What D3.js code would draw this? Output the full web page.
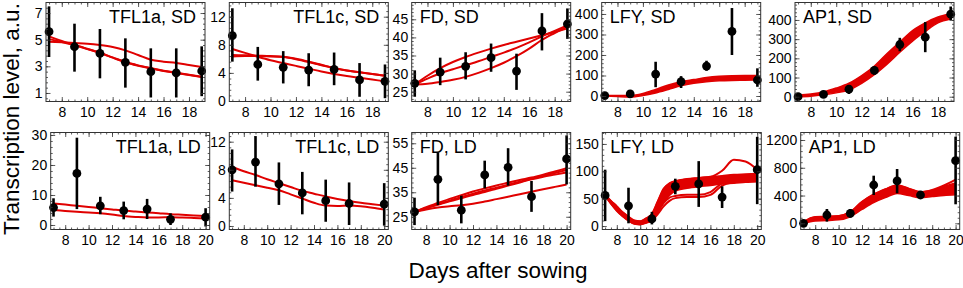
<!DOCTYPE html>
<meta charset="utf-8">
<style>
    body { margin: 0; background: #fff; }
    svg text { font-family: 'Liberation Sans', Arial, Helvetica, sans-serif; fill: #000; }
    .axis text { font-size: 14px; font-family: 'Liberation Sans', Arial, sans-serif; }
    .axis path, .ticks path { display: none; }
    .ticks line { stroke: #333; stroke-width: 0.8px; }
    .title { font-size: 18px; }
    .axis-title { font-size: 22.5px; }
    .fit { fill: none; stroke: #e00000; stroke-width: 2px; }
    .band { fill: #e00000; }
    .band-edge { fill: none; stroke: #e00000; stroke-width: 1.5px; }
    .err { stroke: #000; stroke-width: 2.6px; }
    .frame { fill: none; stroke: #333; stroke-width: 1px; }
</style>
<svg width="963" height="288"></svg>
<script src="https://d3js.org/d3.v7.min.js"></script>
<script>

// sampling days
var daysSD = [7, 9, 11, 13, 15, 17, 19];
var daysLD = [7, 9, 11, 13, 15, 17, 20];
var fitDaysSD = [7, 8, 9, 10, 11, 12, 13, 14, 15, 16, 17, 18, 19];
var fitDaysLD = [7, 8, 9, 10, 11, 12, 13, 14, 15, 16, 17, 18, 19, 20];
var fitDaysLfyLD = [7, 7.5, 8, 8.5, 9, 9.5, 10, 10.5, 11, 11.5, 12, 12.5, 13, 14, 15, 16, 17, 18, 19, 20];
var xTicksSD = [8, 10, 12, 14, 16, 18];
var xTicksLD = [8, 10, 12, 14, 16, 18, 20];

// short day measurements
var tfl1aSD = [5.6, 4.47, 3.97, 3.3, 2.6, 2.5, 2.65];
var tfl1aSDLo = [3.7, 2.6, 2.1, 1.4, 0.66, 0.66, 0.76];
var tfl1aSDHi = [7.5, 6.2, 5.8, 5.1, 4.35, 4.35, 4.5];
var tfl1cSD = [9.3, 5.2, 4.8, 4.4, 4.5, 3.0, 2.8];
var tfl1cSDLo = [5.6, 2.9, 2.5, 2.1, 2.25, 0.6, 0.4];
var tfl1cSDHi = [13.2, 7.7, 7.1, 6.8, 6.9, 5.4, 5.2];
var fdSD = [27.3, 30.4, 32.0, 34.4, 30.7, 41.8, 43.7];
var fdSDLo = [23.6, 26.8, 28.4, 30.5, 25.5, 36.4, 39.6];
var fdSDHi = [30.9, 34.4, 35.9, 38.3, 35.5, 46.7, 48.0];
var lfySD = [2, 10, 107, 70, 146, 315, 78];
var lfySDLo = [-4, 4, 43, 39, 123, 200, 45];
var lfySDHi = [8, 16, 167, 97, 172, 429, 135];
var ap1SD = [0, 12, 39, 137, 272, 310, 430];
var ap1SDLo = [-6, 4, 14, 114, 237, 232, 400];
var ap1SDHi = [6, 20, 61, 158, 307, 389, 470];

// long day measurements
var tfl1aLD = [5.8, 17.2, 6.4, 4.8, 5.3, 1.9, 2.6];
var tfl1aLDLo = [2.8, 5.3, 3.6, 1.9, 2.0, 0, -0.5];
var tfl1aLDHi = [8.9, 29.1, 9.4, 7.8, 8.7, 3.9, 5.6];
var tfl1cLD = [8.0, 9.1, 6.0, 4.7, 3.6, 3.2, 3.1];
var tfl1cLDLo = [4.9, 5.6, 3.0, 1.66, 0.6, 0.14, 0.05];
var tfl1cLDHi = [10.9, 12.8, 9.05, 7.7, 6.6, 6.2, 6.1];
var fdLD = [27.0, 40.3, 27.7, 42.1, 45.2, 33.2, 48.6];
var fdLDLo = [21.6, 29.8, 22.3, 36.6, 37.7, 27.0, 38.2];
var fdLDHi = [32.8, 51.3, 33.6, 47.9, 53.0, 39.6, 58.2];
var lfyLD = [56, 37, 13, 72.6, 77, 53, 103];
var lfyLDLo = [9, 5, 3, 58, 35, 33, 40];
var lfyLDHi = [103, 70, 26, 86.5, 118.6, 72.6, 163];
var ap1LD = [0, 120, 144, 552, 610, 408, 902];
var ap1LDLo = [-18, 24, 82, 408, 432, 350, 274];
var ap1LDHi = [18, 206, 206, 686, 782, 466, 1248];

// model fits (short day)
var tfl1aSDFits = [
    [5.25, 4.9, 4.6, 4.3, 4.0, 3.65, 3.3, 3.05, 2.85, 2.65, 2.5, 2.35, 2.2],
    [5.05, 4.82, 4.6, 4.32, 4.02, 3.67, 3.32, 3.07, 2.87, 2.67, 2.52, 2.37, 2.22],
    [4.85, 4.8, 4.75, 4.7, 4.6, 4.45, 4.2, 3.85, 3.5, 3.35, 3.25, 3.1, 2.95]
];
var tfl1cSDFits = [
    [7.4, 6.85, 6.3, 5.8, 5.4, 5.0, 4.6, 4.2, 3.85, 3.55, 3.3, 3.05, 2.8],
    [6.55, 6.5, 6.45, 6.4, 6.3, 6.0, 5.6, 5.15, 4.7, 4.35, 4.1, 3.85, 3.6],
    [6.35, 6.4, 6.4, 6.35, 6.25, 5.95, 5.55, 5.1, 4.68, 4.33, 4.08, 3.83, 3.58]
];
var fdSDFits = [
    [27, 29.4, 31.5, 33.2, 34.6, 35.8, 36.9, 37.9, 38.8, 39.7, 40.6, 41.5, 42.5],
    [27, 28.6, 30.1, 31.2, 32.3, 33.4, 34.6, 35.8, 37.1, 38.6, 40.3, 41.8, 43.3],
    [27, 27.2, 27.7, 28.3, 29.1, 30.2, 31.5, 33.0, 34.8, 36.9, 39.3, 41.2, 43.0]
];
var lfySDBandLo = [0, -3, -5, 2, 15, 32, 50, 62, 70, 74, 76, 77, 78];
var lfySDBandHi = [4, 2, 2, 12, 32, 54, 70, 80, 90, 96, 99, 100, 100];
var ap1SDBandLo = [0, 3, 10, 20, 35, 70, 115, 170, 232, 290, 340, 385, 405];
var ap1SDBandHi = [8, 14, 25, 45, 70, 110, 160, 225, 285, 345, 385, 415, 432];

// model fits (long day)
var tfl1aLDFits = [
    [7.2, 6.8, 6.4, 6.0, 5.6, 5.2, 4.8, 4.5, 4.2, 3.9, 3.6, 3.4, 3.2, 3.0],
    [5.0, 4.7, 4.4, 4.15, 3.9, 3.5, 3.0, 2.7, 2.5, 2.5, 2.6, 2.5, 2.35, 2.2]
];
var tfl1cLDFits = [
    [8.4, 7.8, 7.25, 6.65, 6.1, 5.55, 5.0, 4.6, 4.2, 3.85, 3.55, 3.3, 3.1, 2.9],
    [6.5, 6.15, 5.8, 5.45, 5.1, 4.5, 3.9, 3.3, 2.9, 2.85, 2.9, 2.8, 2.6, 2.35]
];
var fdLDFits = [
    [27, 28.9, 30.6, 32.3, 33.8, 35.3, 36.6, 37.8, 38.9, 40.0, 41.0, 42.2, 43.5, 44.8],
    [27, 28.6, 30.1, 31.6, 33.0, 34.4, 35.7, 36.9, 38.1, 39.3, 40.5, 41.7, 42.9, 44.1],
    [27, 28.5, 29.9, 31.3, 32.6, 33.9, 35.1, 36.4, 37.7, 39.0, 40.3, 41.3, 42.2, 43.1],
    [27, 28.0, 28.8, 29.3, 29.7, 30.3, 31.2, 32.2, 33.2, 34.2, 35.2, 36.2, 37.2, 38.2]
];
var lfyLDBandLo = [56, 41, 28, 18, 10, 4, 3, 6, 10, 25, 44, 56, 64, 69, 72, 74, 77, 78, 80, 81];
var lfyLDBandHi = [57, 46, 36, 25, 17, 10, 9, 14, 22, 45, 68, 78, 82, 86, 88, 90, 92, 94, 95, 96];
var lfyLDFits = [
    [56, 41, 28, 18, 10, 4, 3, 6, 10, 22, 36, 46, 51, 53, 53, 57, 74, 80, 82, 83],
    [56, 42, 30, 19, 11, 5, 4, 7, 12, 26, 42, 52, 55, 57, 57, 62, 78, 82, 84, 85],
    [57, 46, 36, 25, 17, 10, 9, 14, 22, 45, 68, 78, 82, 86, 88, 90, 101, 121, 118, 103]
];
var ap1LDBandLo = [0, 35, 40, 50, 95, 200, 300, 370, 430, 400, 370, 385, 400, 410];
var ap1LDBandHi = [20, 90, 95, 105, 165, 310, 415, 490, 550, 500, 450, 475, 530, 580];
var ap1LDFits = [
    [20, 90, 95, 105, 165, 310, 415, 490, 550, 500, 450, 480, 545, 630]
];

var W = 159, H_SD = [2.5, 101.5], H_LD = [132.5, 229.5];
var leftSD = [46, 229.3, 411.7, 601.7, 795];
var leftLD = [50.7, 229.3, 411.7, 602.3, 800.7];

var panels = [
    {title: "TFL1a, SD", row: 0, col: 0, titleRight: true, days: daysSD, mean: tfl1aSD, lo: tfl1aSDLo, hi: tfl1aSDHi,
     yDomain: [0.36, 7.79], yTicks: [1, 3, 5, 7], fitDays: fitDaysSD, fits: tfl1aSDFits},
    {title: "TFL1c, SD", row: 0, col: 1, titleRight: true, days: daysSD, mean: tfl1cSD, lo: tfl1cSDLo, hi: tfl1cSDHi,
     yDomain: [-0.07, 14.02], yTicks: [0, 4, 8, 12], fitDays: fitDaysSD, fits: tfl1cSDFits},
    {title: "FD, SD", row: 0, col: 2, days: daysSD, mean: fdSD, lo: fdSDLo, hi: fdSDHi,
     yDomain: [22.29, 49.64], yTicks: [25, 30, 35, 40, 45], fitDays: fitDaysSD, fits: fdSDFits},
    {title: "LFY, SD", row: 0, col: 3, days: daysSD, mean: lfySD, lo: lfySDLo, hi: lfySDHi,
     yDomain: [-26.8, 456], yTicks: [0, 100, 200, 300, 400], fitDays: fitDaysSD, fits: [],
     band: [lfySDBandLo, lfySDBandHi]},
    {title: "AP1, SD", row: 0, col: 4, days: daysSD, mean: ap1SD, lo: ap1SDLo, hi: ap1SDHi,
     yDomain: [-25, 491], yTicks: [0, 100, 200, 300, 400], fitDays: fitDaysSD, fits: [],
     band: [ap1SDBandLo, ap1SDBandHi]},
    {title: "TFL1a, LD", row: 1, col: 0, titleRight: true, days: daysLD, mean: tfl1aLD, lo: tfl1aLDLo, hi: tfl1aLDHi,
     yDomain: [-1.5, 30.83], yTicks: [0, 10, 20, 30], fitDays: fitDaysLD, fits: tfl1aLDFits},
    {title: "TFL1c, LD", row: 1, col: 1, titleRight: true, days: daysLD, mean: tfl1cLD, lo: tfl1cLDLo, hi: tfl1cLDHi,
     yDomain: [-0.5, 13.31], yTicks: [0, 4, 8, 12], fitDays: fitDaysLD, fits: tfl1cLDFits},
    {title: "FD, LD", row: 1, col: 2, days: daysLD, mean: fdLD, lo: fdLDLo, hi: fdLDHi,
     yDomain: [19.8, 59.4], yTicks: [25, 35, 45, 55], fitDays: fitDaysLD, fits: fdLDFits},
    {title: "LFY, LD", row: 1, col: 3, days: daysLD, mean: lfyLD, lo: lfyLDLo, hi: lfyLDHi,
     yDomain: [-6.3, 170.9], yTicks: [0, 50, 100, 150], fitDays: fitDaysLfyLD, fits: lfyLDFits,
     band: [lfyLDBandLo, lfyLDBandHi]},
    {title: "AP1, LD", row: 1, col: 4, days: daysLD, mean: ap1LD, lo: ap1LDLo, hi: ap1LDHi,
     yDomain: [-89, 1308], yTicks: [0, 400, 800, 1200], fitDays: fitDaysLD, fits: ap1LDFits,
     band: [ap1LDBandLo, ap1LDBandHi]}
];

var svg = d3.select("svg");

panels.forEach(function(p, i) {
    var sd = p.row === 0;
    var left = sd ? leftSD[p.col] : leftLD[p.col];
    var top = sd ? H_SD[0] : H_LD[0], bottom = sd ? H_SD[1] : H_LD[1];
    var x = d3.scaleLinear().domain(sd ? [6.76, 19.26] : [6.76, 20.35]).range([left, left + W]);
    var y = d3.scaleLinear().domain(p.yDomain).range([bottom, top]);
    var xTicks = sd ? xTicksSD : xTicksLD;
    var g = svg.append("g");

    svg.append("clipPath").attr("id", "clip" + i)
        .append("rect").attr("x", left).attr("y", top).attr("width", W).attr("height", bottom - top);
    var gc = g.append("g").attr("clip-path", "url(#clip" + i + ")");

    var line = d3.line()
        .x(function(d, j) { return x(p.fitDays[j]); })
        .y(function(d) { return y(d); })
        .curve(d3.curveMonotoneX);

    if (p.band) {
        var area = d3.area()
            .x(function(d, j) { return x(p.fitDays[j]); })
            .y0(function(d, j) { return y(p.band[0][j]); })
            .y1(function(d, j) { return y(p.band[1][j]); })
            .curve(d3.curveMonotoneX);
        gc.append("path").datum(p.band[0]).attr("class", "band").attr("d", area);
        p.band.forEach(function(b) {
            gc.append("path").datum(b).attr("class", "band-edge").attr("d", line);
        });
    }
    p.fits.forEach(function(f) {
        gc.append("path").datum(f).attr("class", "fit").attr("d", line);
    });

    // error bars and means
    p.days.forEach(function(d, j) {
        g.append("line").attr("class", "err")
            .attr("x1", x(d)).attr("x2", x(d))
            .attr("y1", y(p.lo[j])).attr("y2", y(p.hi[j]));
        g.append("circle")
            .attr("cx", x(d)).attr("cy", y(p.mean[j])).attr("r", 4.4)
            .attr("fill", "#000");
    });

    // inward frame ticks
    var yStep = p.yTicks[1] - p.yTicks[0];
    var yMinor = d3.range(p.yTicks[0] - yStep, p.yTicks[p.yTicks.length - 1] + yStep, yStep / 5)
        .filter(function(v) { return v > p.yDomain[0] && v < p.yDomain[1]; });
    var xMinor = d3.range(7, sd ? 19.5 : 20.5, 0.5);
    [[d3.axisTop(x), "translate(0," + bottom + ")", xTicks, xMinor],
     [d3.axisBottom(x), "translate(0," + top + ")", xTicks, xMinor],
     [d3.axisRight(y), "translate(" + left + ",0)", p.yTicks, yMinor],
     [d3.axisLeft(y), "translate(" + (left + W) + ",0)", p.yTicks, yMinor]].forEach(function(a) {
        g.append("g").attr("class", "ticks").attr("transform", a[1])
            .call(a[0].tickValues(a[3]).tickSize(2).tickFormat(""));
        g.append("g").attr("class", "ticks").attr("transform", a[1])
            .call(a[0].tickValues(a[2]).tickSize(4.5).tickFormat(""));
    });

    g.append("rect").attr("class", "frame")
        .attr("x", left).attr("y", top).attr("width", W).attr("height", bottom - top);

    // tick labels
    g.append("g").attr("class", "axis").attr("transform", "translate(0," + bottom + ")")
        .call(d3.axisBottom(x).tickValues(xTicks).tickSize(0).tickPadding(5.5).tickFormat(d3.format("d")));
    g.append("g").attr("class", "axis").attr("transform", "translate(" + left + ",0)")
        .call(d3.axisLeft(y).tickValues(p.yTicks).tickSize(0).tickPadding(3.5).tickFormat(d3.format("d")));

    g.append("text").attr("class", "title")
        .attr("x", p.titleRight ? left + W - 9 : left + 8)
        .attr("y", top + 20.5)
        .attr("text-anchor", p.titleRight ? "end" : "start")
        .text(p.title);
});

svg.append("text").attr("class", "axis-title")
    .attr("transform", "translate(19,119) rotate(-90)")
    .attr("text-anchor", "middle")
    .text("Transcription level, a.u.");

svg.append("text").attr("class", "axis-title")
    .attr("x", 498).attr("y", 278)
    .attr("text-anchor", "middle")
    .text("Days after sowing");

</script>
